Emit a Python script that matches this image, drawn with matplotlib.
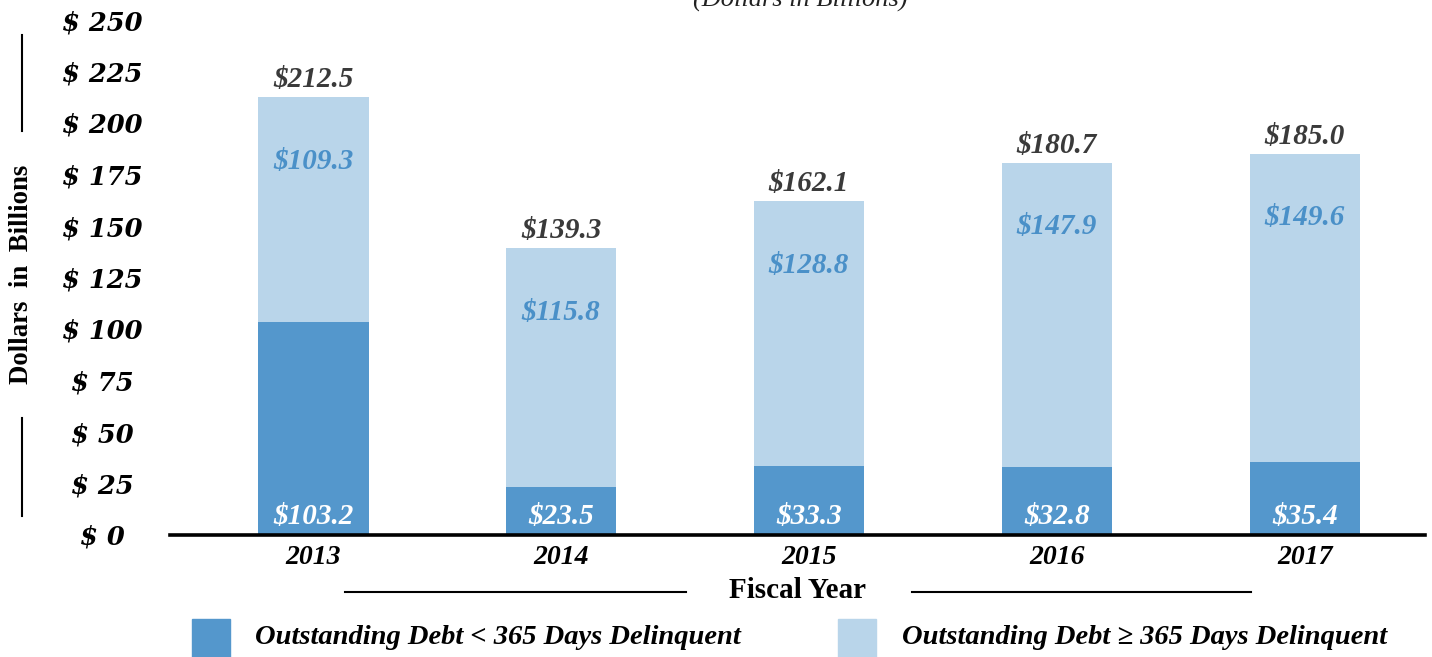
import matplotlib
matplotlib.use("Agg")
import matplotlib.pyplot as plt
from matplotlib.lines import Line2D
from matplotlib.patches import Rectangle

years = ["2013", "2014", "2015", "2016", "2017"]
under_365 = [103.2, 23.5, 33.3, 32.8, 35.4]
over_365 = [109.3, 115.8, 128.8, 147.9, 149.6]
totals = [212.5, 139.3, 162.1, 180.7, 185.0]
yticks = [0, 25, 50, 75, 100, 125, 150, 175, 200, 225, 250]
ytick_labels = ["$ 0", "$ 25", "$ 50", "$ 75", "$ 100", "$ 125", "$ 150",
                "$ 175", "$ 200", "$ 225", "$ 250"]
legend_labels = ["Outstanding Debt < 365 Days Delinquent",
                 "Outstanding Debt \u2265 365 Days Delinquent"]

DARK = "#5497CC"
LIGHT = "#B9D5EA"
LIGHT_TXT = "#4A90C8"
TOTAL_TXT = "#3A3A3A"
SERIF = ["Liberation Serif", "DejaVu Serif"]

W, H = 1432, 657
fig = plt.figure(figsize=(W / 100, H / 100), dpi=100)
ax = fig.add_axes([170 / W, 1 - 535 / H, (1425 - 170) / W, (535 - 20) / H])

x = list(range(len(years)))
bw = 0.447
ax.bar(x, under_365, width=bw, color=DARK, zorder=2)
ax.bar(x, over_365, width=bw, bottom=under_365, color=LIGHT, zorder=2)

ax.set_xlim(-0.577, 4.484)
ax.set_ylim(0, 250)
for s in ["left", "right", "top"]:
    ax.spines[s].set_visible(False)
ax.spines["bottom"].set_linewidth(2.6)
ax.spines["bottom"].set_color("black")
ax.tick_params(axis="both", length=0)
ax.set_xticks(x)
ax.set_xticklabels(years, fontfamily=SERIF, fontweight="bold", fontstyle="italic",
                   fontsize=20)
ax.tick_params(axis="x", pad=7)
ax.set_yticks(yticks)
ax.set_yticklabels(ytick_labels, fontfamily=["DejaVu Serif"], fontweight="bold",
                   fontstyle="italic", fontsize=18.5, ha="center")
ax.tick_params(axis="y", pad=49)

for xi, u, o, t in zip(x, under_365, over_365, totals):
    ax.annotate(f"${t:.1f}", xy=(xi, t), xytext=(0, 4), textcoords="offset pixels",
                ha="center", va="bottom", color=TOTAL_TXT, fontfamily=SERIF,
                fontweight="bold", fontstyle="italic", fontsize=21)
    ax.annotate(f"${o:.1f}", xy=(xi, t), xytext=(0, -64), textcoords="offset pixels",
                ha="center", va="center", color=LIGHT_TXT, fontfamily=SERIF,
                fontweight="bold", fontstyle="italic", fontsize=21)
    ax.annotate(f"${u:.1f}", xy=(xi, 0), xytext=(0, 19), textcoords="offset pixels",
                ha="center", va="center", color="white", fontfamily=SERIF,
                fontweight="bold", fontstyle="italic", fontsize=21)

# title (partly cut off at top, as in the original)
fig.text(800 / W, 1 - 7 / H, "(Dollars in Billions)", ha="center", va="baseline",
         fontfamily=SERIF, fontstyle="italic", fontsize=19, color="#222222")

# y-axis label with bracket lines
fig.text(22 / W, 1 - 274 / H, "Dollars  in  Billions", rotation=90, ha="center",
         va="center", fontfamily=SERIF, fontweight="bold", fontsize=19.3)
fig.add_artist(Line2D([22 / W, 22 / W], [1 - 35 / H, 1 - 131 / H], color="black", lw=1.5))
fig.add_artist(Line2D([22 / W, 22 / W], [1 - 418 / H, 1 - 516 / H], color="black", lw=1.5))

# x-axis label with lines
fig.text(798 / W, 1 - 591 / H, "Fiscal Year", ha="center", va="center",
         fontfamily=SERIF, fontweight="bold", fontsize=21)
fig.add_artist(Line2D([345 / W, 686 / W], [1 - 592 / H, 1 - 592 / H], color="black", lw=1.5))
fig.add_artist(Line2D([912 / W, 1251 / W], [1 - 592 / H, 1 - 592 / H], color="black", lw=1.5))

# legend
for (sx, tx), col, lab in zip([(192, 255), (838, 902)], [DARK, LIGHT], legend_labels):
    fig.add_artist(Rectangle((sx / W, 1 - 657 / H), 38 / W, 38 / H, color=col,
                             transform=fig.transFigure))
    fig.text(tx / W, 1 - 638 / H, lab, ha="left", va="center", fontfamily=SERIF,
             fontweight="bold", fontstyle="italic", fontsize=20.5)

fig.savefig("out.png", dpi=100)
